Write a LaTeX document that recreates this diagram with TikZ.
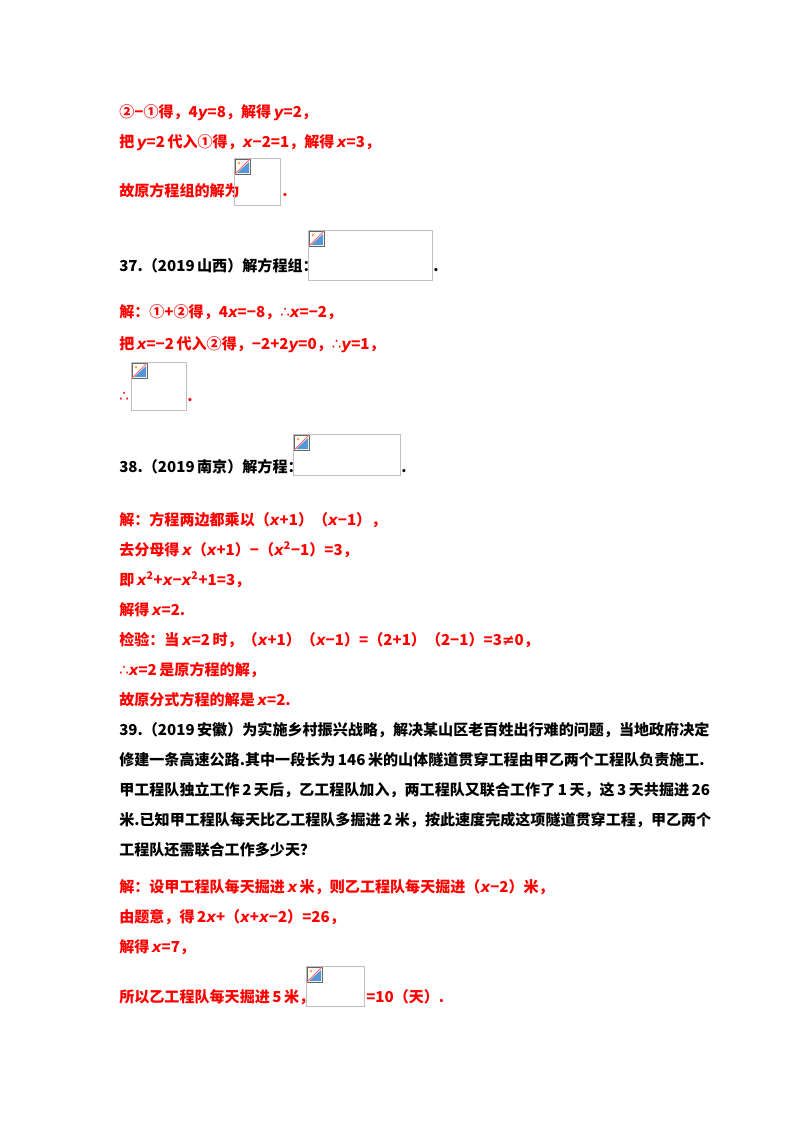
\documentclass[tikz,border=0pt]{standalone}
\usepackage{fontspec}
\setmainfont{Noto Sans CJK SC}
\newfontfamily\lat{DejaVu Sans}
\newcommand{\vx}{{\lat\bfseries\itshape x}}
\newcommand{\vy}{{\lat\bfseries\itshape y}}
\newcommand{\sofx}{{\lat\mdseries ∴}}
\definecolor{ans}{RGB}{255,0,0}
\tikzset{
 ln/.style={anchor=base west,inner sep=0pt,font=\fontsize{11.3}{13}\selectfont\bfseries},
 red/.style={ln,text=ans},
 blk/.style={ln,text=black},
 ph/.style={draw=black!25,line width=0.6pt}
}
\newcommand{\placeholder}[4]{%
 \draw[ph] (#1,#2) rectangle (#3,#4);
 \fill[white] (#1+1,#2+1) rectangle (#1+17,#2+17);
 \draw[black!60,line width=0.5pt] (#1+1,#2+1) rectangle (#1+16,#2+16);
 \fill[cyan!60!blue!70] (#1+3,#2+15) -- (#1+15,#2+4) -- (#1+15,#2+15) -- cycle;
 \fill[orange!70] (#1+5,#2+5) circle (1.5);
 \draw[red!60,line width=0.6pt] (#1+1,#2+16) -- (#1+16,#2+1);
}
\begin{document}
\begin{tikzpicture}[x=0.75pt,y=-0.75pt]
\useasboundingbox[fill=white] (0,0) rectangle (800,1132);
\node[red] (l1) at (119,117) {②−①得，4\vy{}=8，解得\,\vy{}=2，};
\node[red] (l2) at (119,147) {把\,\vy{}=2\,代入①得，\vx{}−2=1，解得\,\vx{}=3，};
\node[red] (l3) at (119,196) {故原方程组的解为};
\placeholder{234}{158}{280}{205}
\node[red] (l3b) at (282,196) {.};
\node[blk] (q37) at (119,271) {37.（2019\,山西）解方程组：};
\placeholder{308}{230}{432}{280}
\node[blk] (q37b) at (433,271) {.};
\node[red] (l4) at (119,317) {解：①+②得，4\vx{}=−8，\sofx\vx{}=−2，};
\node[red] (l5) at (119,349) {把\,\vx{}=−2\,代入②得，−2+2\vy{}=0，\sofx\vy{}=1，};
\node[red] (l6) at (119,401) {\sofx};
\placeholder{131}{362}{186}{410}
\node[red] (l6b) at (187,401) {.};
\node[blk] (q38) at (119,472) {38.（2019\,南京）解方程：};
\placeholder{293}{434}{400}{475}
\node[blk] (q38b) at (401,472) {.};
\node[red] (a1) at (119,525) {解：方程两边都乘以（\vx{}+1）（\vx{}−1），};
\node[red] (a2) at (119,555) {去分母得\,\vx{}（\vx{}+1）−（\vx{}$^{\mathbf 2}$−1）=3，};
\node[red] (a3) at (119,585) {即\,\vx{}$^{\mathbf 2}$+\vx{}−\vx{}$^{\mathbf 2}$+1=3，};
\node[red] (a4) at (119,615) {解得\,\vx{}=2.};
\node[red] (a5) at (119,645) {检验：当\,\vx{}=2\,时，（\vx{}+1）（\vx{}−1）=（2+1）（2−1）=3{\lat ≠}0，};
\node[red] (a6) at (119,675) {\sofx\vx{}=2\,是原方程的解，};
\node[red] (a7) at (119,705) {故原分式方程的解是\,\vx{}=2.};
\node[blk] (q39a) at (119,735) {39.（2019\,安徽）为实施乡村振兴战略，解决某山区老百姓出行难的问题，当地政府决定};
\node[blk] (q39b) at (119,765) {修建一条高速公路.其中一段长为\,146\,米的山体隧道贯穿工程由甲乙两个工程队负责施工.};
\node[blk] (q39c) at (119,795) {甲工程队独立工作\,2\,天后，乙工程队加入，两工程队又联合工作了\,1\,天，这\,3\,天共掘进\,26};
\node[blk] (q39d) at (119,825) {米.已知甲工程队每天比乙工程队多掘进\,2\,米，按此速度完成这项隧道贯穿工程，甲乙两个};
\node[blk] (q39e) at (119,855) {工程队还需联合工作多少天？};
\node[red] (b1) at (119,892) {解：设甲工程队每天掘进\,\vx{}\,米，则乙工程队每天掘进（\vx{}−2）米，};
\node[red] (b2) at (119,922) {由题意，得\,2\vx{}+（\vx{}+\vx{}−2）=26，};
\node[red] (b3) at (119,952) {解得\,\vx{}=7，};
\node[red] (b4) at (119,1002) {所以乙工程队每天掘进\,5\,米，};
\placeholder{306}{966}{364}{1006}
\node[red] (b4b) at (366,1002) {=10（天）.};
\end{tikzpicture}
\end{document}
